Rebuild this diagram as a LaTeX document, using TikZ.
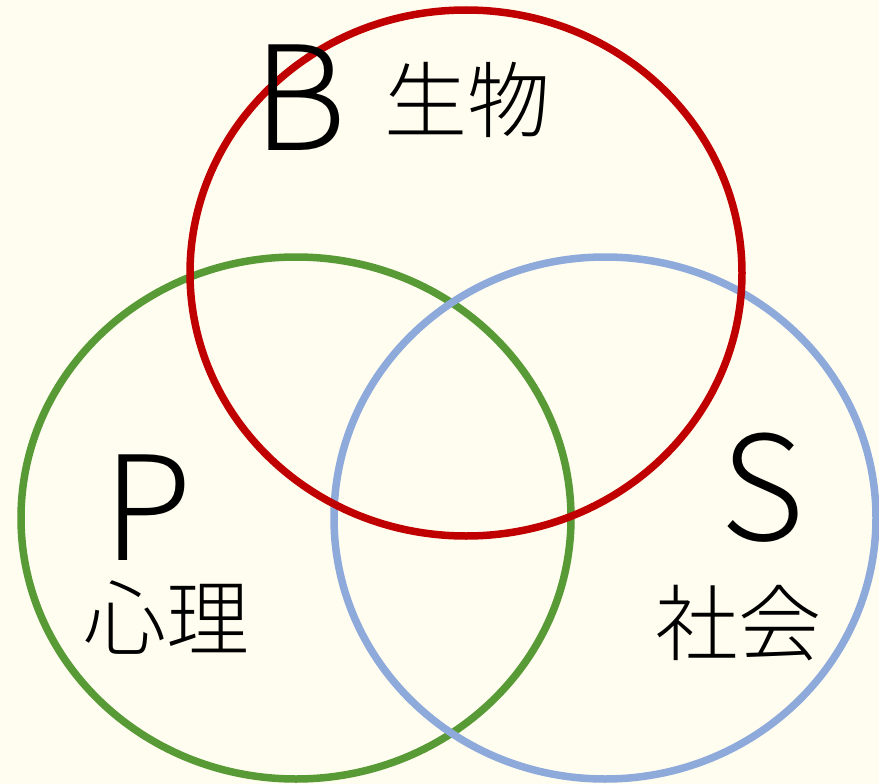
\documentclass[tikz,border=0pt]{standalone}
\usepackage{fontspec}
\setmainfont{Noto Sans CJK JP}[UprightFont=* Light]
\begin{document}
\begin{tikzpicture}[x=1pt,y=-1pt,
  ring/.style={line width=7.5pt},
  big/.style={font=\fontsize{145}{150}\selectfont, inner sep=0pt},
  kanji/.style={font=\fontsize{83}{88}\selectfont, inner sep=0pt}]
\definecolor{bgc}{HTML}{FFFDF0}
\definecolor{redc}{HTML}{C00000}
\definecolor{greenc}{HTML}{589A36}
\definecolor{bluec}{HTML}{8EAADB}
\fill[bgc] (0,0) rectangle (879,784);
\useasboundingbox (0,0) rectangle (879,784);
\draw[ring, greenc] (296,518) ellipse [x radius=275, y radius=261];
\draw[ring, bluec] (605,518) ellipse [x radius=271, y radius=261];
\draw[ring, redc] (466,273) ellipse [x radius=276, y radius=263];
\node[big] (b) at (300,98) {B};
\node[kanji] (bio) at (467,100) {生物};
\node[big] (p) at (148,508) {P};
\node[kanji] (psy) at (166,618) {心理};
\node[big] (s) at (763,488) {S};
\node[kanji] (soc) at (738,623) {社会};
\end{tikzpicture}
\end{document}
